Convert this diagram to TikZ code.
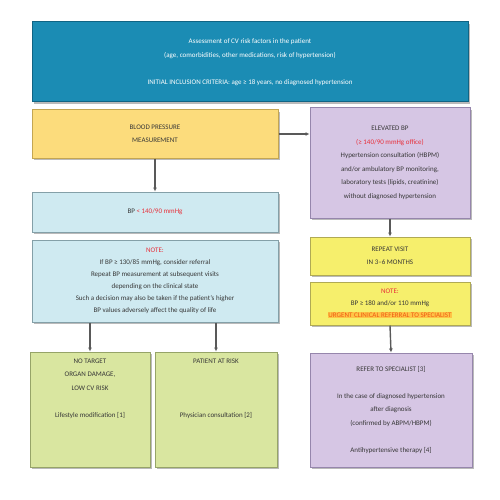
\documentclass[tikz,border=0pt]{standalone}
\usepackage{fontspec}
\setmainfont{Carlito}
\usetikzlibrary{arrows.meta,positioning,shadows}

\definecolor{topblue}{RGB}{27,140,180}
\definecolor{topedge}{RGB}{16,100,132}
\definecolor{measfill}{RGB}{252,220,124}
\definecolor{measedge}{RGB}{196,166,82}
\definecolor{elevfill}{RGB}{214,198,228}
\definecolor{elevedge}{RGB}{150,134,172}
\definecolor{cyanfill}{RGB}{207,234,241}
\definecolor{cyanedge}{RGB}{132,160,168}
\definecolor{yelfill}{RGB}{246,239,108}
\definecolor{yeledge}{RGB}{176,170,84}
\definecolor{grnfill}{RGB}{217,230,160}
\definecolor{grnedge}{RGB}{150,164,104}
\definecolor{txtgray}{RGB}{55,55,55}
\definecolor{notered}{RGB}{232,48,58}
\definecolor{urgorange}{RGB}{238,90,20}
\definecolor{urghl}{RGB}{255,196,70}

\begin{document}
\begin{tikzpicture}[x=1pt,y=-1pt,>={Latex[length=4pt,width=4pt]}]
    \tikzset{
        box/.style={draw,line width=1pt,inner sep=0pt,align=center,text=txtgray,
            font=\fontsize{7}{13.5}\selectfont,
            drop shadow={shadow xshift=1.5pt,shadow yshift=-2pt,fill=black!45,opacity=0.6}},
        txt/.style={align=center,text=txtgray,inner sep=0pt,font=\fontsize{7}{13.5}\selectfont},
        link/.style={->,draw=black!65,line width=1.4pt}
    }
    \useasboundingbox (0,0) rectangle (500,500);

    % top row
    \node[box,draw=topedge,fill=topblue,text=white,minimum width=436pt,minimum height=80pt]
        (assess) at (250,62) {Assessment of CV risk factors in the patient\\
        (age, comorbidities, other medications, risk of hypertension)\\[13.5pt]
        INITIAL INCLUSION CRITERIA: age ≥ 18 years, no diagnosed hypertension};

    \node[box,draw=measedge,fill=measfill,minimum width=246pt,minimum height=48pt]
        (meas) at (155,134) {BLOOD PRESSURE\\MEASUREMENT};

    \node[box,draw=elevedge,fill=elevfill,minimum width=160pt,minimum height=110pt]
        (elev) at (390,163) {ELEVATED BP\\
        \textcolor{notered}{(≥ 140/90 mmHg office)}\\
        Hypertension consultation (HBPM)\\
        and/or ambulatory BP monitoring,\\
        laboratory tests (lipids, creatinine)\\
        without diagnosed hypertension};

    % left column
    \node[box,draw=cyanedge,fill=cyanfill,minimum width=246pt,minimum height=40pt]
        (low) at (155,212) {BP \textcolor{notered}{< 140/90 mmHg}};

    \node[box,draw=cyanedge,fill=cyanfill,minimum width=246pt,minimum height=82pt]
        (note) at (155,281) {\textcolor{notered}{NOTE:}\\[-1.5pt]
        If BP ≥ 130/85 mmHg, consider referral\\[-1.5pt]
        Repeat BP measurement at subsequent visits\\[-1.5pt]
        depending on the clinical state\\[-1.5pt]
        Such a decision may also be taken if the patient's higher\\[-1.5pt]
        BP values adversely affect the quality of life};

    \node[box,draw=grnedge,fill=grnfill,minimum width=120pt,minimum height=115pt]
        (norisk) at (90,409.5) {};
    \node[txt,below=7pt of norisk.north] (noristxt) {NO TARGET\\ORGAN DAMAGE,\\LOW CV RISK\\[13.5pt]
        Lifestyle modification [1]};

    \node[box,draw=grnedge,fill=grnfill,minimum width=122pt,minimum height=115pt]
        (risk) at (216,409.5) {};
    \node[txt,below=7pt of risk.north] (risktxt) {PATIENT AT RISK\\[40.5pt]
        Physician consultation [2]};

    % right column
    \node[box,draw=yeledge,fill=yelfill,minimum width=160pt,minimum height=38pt]
        (repeat) at (390,256) {REPEAT VISIT\\IN 3--6 MONTHS};

    \node[box,draw=yeledge,fill=yelfill,minimum width=160pt,minimum height=43pt,
        font=\fontsize{7}{12}\selectfont]
        (urgent) at (390,303.5) {\textcolor{notered}{NOTE:}\\
        BP ≥ 180 and/or 110 mmHg\\
        {\setlength{\fboxsep}{0.6pt}\colorbox{urghl}{\textcolor{urgorange}{URGENT CLINICAL REFERRAL TO SPECIALIST}}}};

    \node[box,draw=elevedge,fill=elevfill,minimum width=162pt,minimum height=114pt]
        (refer) at (391,410) {REFER TO SPECIALIST [3]\\[13.5pt]
        In the case of diagnosed hypertension\\
        after diagnosis\\
        (confirmed by ABPM/HBPM)\\[13.5pt]
        Antihypertensive therapy [4]};

    % connectors
    \draw[link] (meas.east) -- (meas.east -| elev.west);
    \draw[link] (meas.south -| low.north) -- (low.north);
    \draw[link] (note.south -| norisk.north) -- (norisk.north);
    \draw[link] (note.south -| risk.north) -- (risk.north);
    \draw[link] (elev.south) -- (repeat.north);
    \draw[link] (urgent.south) -- (refer.north);
\end{tikzpicture}
\end{document}
